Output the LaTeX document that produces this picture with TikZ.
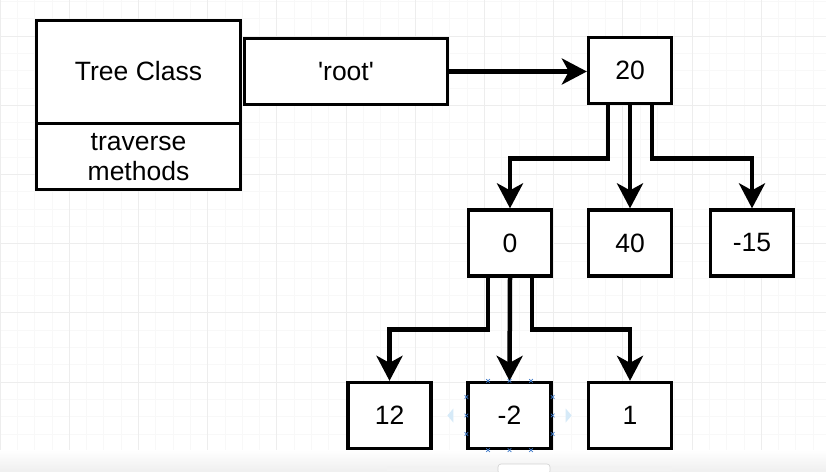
\documentclass[tikz,border=0pt]{standalone}
\usepackage{fontspec}
\setmainfont{Liberation Sans}[Ligatures=TeXOff]
\usetikzlibrary{arrows.meta,calc}
\definecolor{gridminor}{RGB}{248,248,248}
\definecolor{gridmajor}{RGB}{237,237,237}
\definecolor{handleblue}{RGB}{60,120,200}
\definecolor{handlelight}{RGB}{214,234,248}
\begin{document}
\begin{tikzpicture}[x=1pt,y=-1pt,
  txt/.style={font=\fontsize{26.5}{30}\selectfont, inner sep=0pt},
  box/.style={draw=black, line width=3.3pt, fill=white, minimum width=83pt, minimum height=66pt, inner sep=0pt, font=\fontsize{26.5}{30}\selectfont},
  bigbox/.style={draw=black, line width=3pt, fill=white, inner sep=0pt},
  conn/.style={line width=4.5pt, line join=miter, -{Stealth[length=25pt,width=26pt,inset=7pt]}},
  gminor/.style={draw=gridminor, line width=0.8pt},
  gmajor/.style={draw=gridmajor, line width=0.9pt},
  handle/.style={draw=handleblue, line width=0.7pt},
  tri/.style={fill=handlelight}]
\useasboundingbox (0,0) rectangle (826,471);
\fill[white] (0,0) rectangle (826,471);
% grid
\foreach \i in {0,...,48} {\draw[gminor] ({\i*17.3},0) -- ({\i*17.3},471);}
\foreach \j in {0,...,27} {\draw[gminor] (0,{1.4+\j*17.3}) -- (826,{1.4+\j*17.3});}
\foreach \i in {0,...,12} {\draw[gmajor] ({\i*69.2},0) -- ({\i*69.2},471);}
\foreach \j in {0,...,6} {\draw[gmajor] (0,{36+(\j-1)*69.2}) -- (826,{36+(\j-1)*69.2});}
% bottom band
\shade[top color=white, bottom color=gray!12] (0,450) rectangle (826,471);
\fill[gray!10] (387,466) rectangle (672,471);
\draw[gray!35, fill=white, line width=0.6pt, rounded corners=3pt] (498,464) rectangle (550,474);

% Tree class box
\node[bigbox, minimum width=204pt, minimum height=169pt] (tc) at (138.5,105) {};
\draw[line width=3pt] (tc.west |- 0,123) -- (tc.east |- 0,123);
\node[txt] (tcname) at (138.5,71) {Tree Class};
\node[txt, align=center, font=\fontsize{26.5}{30}\selectfont] (tcmeth) at (138.5,157) {traverse\\methods};
% root box
\node[bigbox, minimum width=203pt, minimum height=66pt, font=\fontsize{26.5}{30}\selectfont] (root) at (346,71.5) {'root'};

% tree nodes
\node[box] (n20) at (630,70.5) {20};
\node[box] (n0) at (510,243) {0};
\node[box] (n40) at (630,243) {40};
\node[box] (n15) at (752,243) {-15};
\node[box] (n12) at (389.5,415.5) {12};
\node[box] (nm2) at (509.5,415.5) {-2};
\node[box] (n1) at (630,415.5) {1};

% connectors
\draw[conn] (root.east) -- (root.east -| n20.west);
\draw[conn] ($(n20.south)+(-22,0)$) -- ++(0,53.5) -| (n0.north);
\draw[conn] (n20.south) -- (n40.north);
\draw[conn] ($(n20.south)+(22,0)$) -- ++(0,53.5) -| (n15.north);
\draw[conn] ($(n0.south)+(-22,0)$) -- ++(0,52) -| (n12.north);
\draw[conn] (n0.south) -- (nm2.north);
\draw[conn] ($(n0.south)+(22,0)$) -- ++(0,52) -| (n1.north);

% selection handles on -2
\foreach \x in {-21.5,0,21.5} {
  \draw[handle] ($(nm2.north)+(\x,0)+(-1.8,-1.8)$) -- ++(3.6,3.6);
  \draw[handle] ($(nm2.north)+(\x,0)+(-1.8,1.8)$) -- ++(3.6,-3.6);
  \draw[handle] ($(nm2.south)+(\x,0)+(-1.8,-1.8)$) -- ++(3.6,3.6);
  \draw[handle] ($(nm2.south)+(\x,0)+(-1.8,1.8)$) -- ++(3.6,-3.6);
}
\foreach \y in {-18.5,0,18.5} {
  \draw[handle] ($(nm2.west)+(0,\y)+(-1.8,-1.8)$) -- ++(3.6,3.6);
  \draw[handle] ($(nm2.west)+(0,\y)+(-1.8,1.8)$) -- ++(3.6,-3.6);
  \draw[handle] ($(nm2.east)+(0,\y)+(-1.8,-1.8)$) -- ++(3.6,3.6);
  \draw[handle] ($(nm2.east)+(0,\y)+(-1.8,1.8)$) -- ++(3.6,-3.6);
}
\fill[tri] ($(nm2.west)+(-19,0)$) -- ++(6,-7) -- ++(0,14) -- cycle;
\fill[tri] ($(nm2.east)+(19,0)$) -- ++(-6,-7) -- ++(0,14) -- cycle;
\end{tikzpicture}
\end{document}
